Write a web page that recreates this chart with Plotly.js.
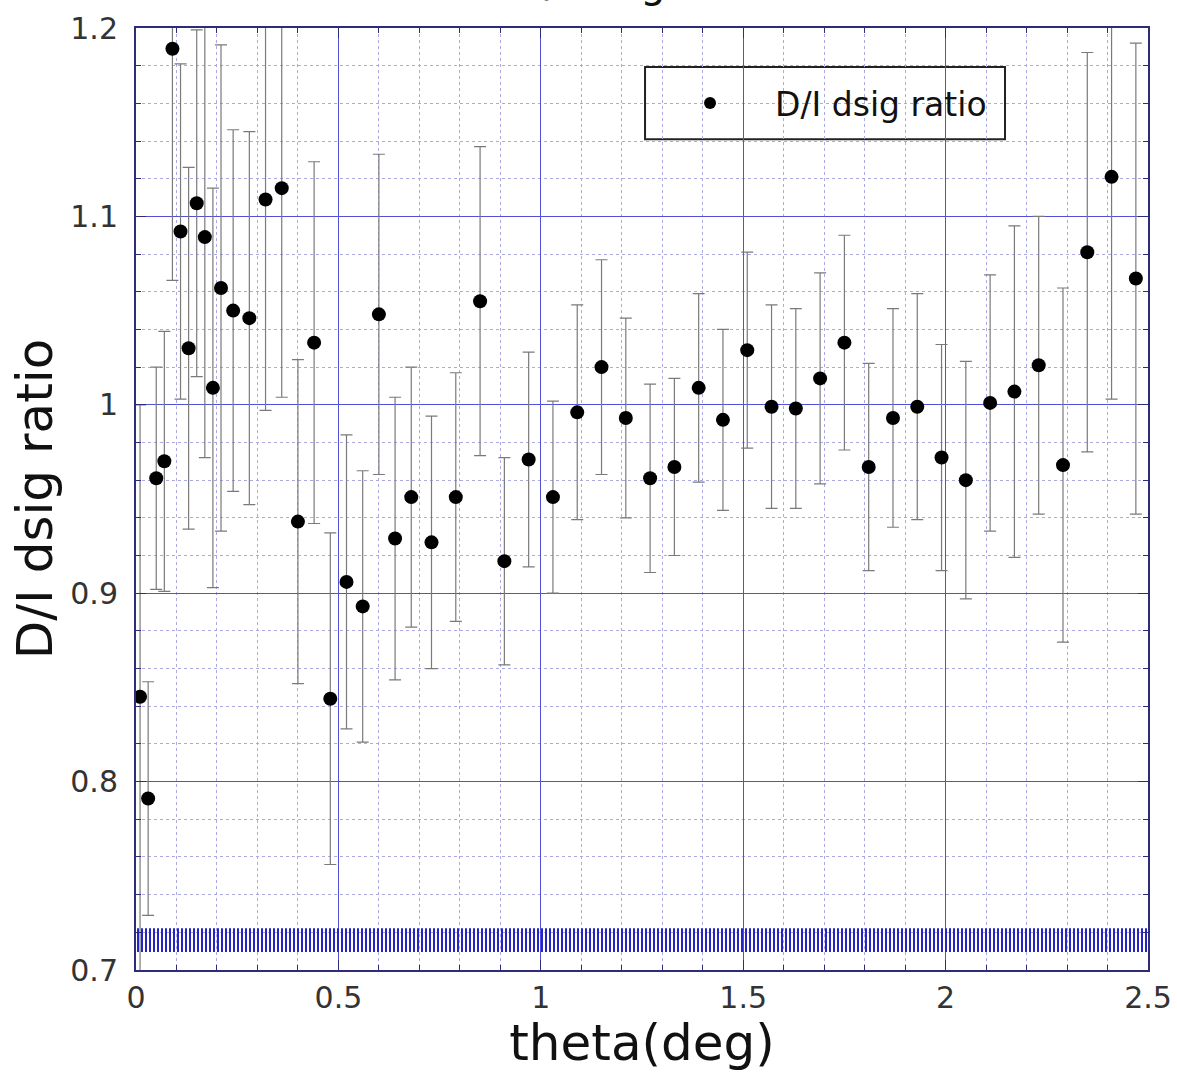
<!DOCTYPE html>
<html>
<head>
<meta charset="utf-8">
<script src="https://cdn.plot.ly/plotly-3.0.1.min.js"></script>
<style>html,body{margin:0;padding:0;background:#fff;}#chart{width:1177px;height:1072px;}</style>
</head>
<body>
<div id="chart"></div>
<script>
// theta (deg)
const theta = [0.01,0.03,0.05,0.07,0.09,0.11,0.13,0.15,0.17,0.19,0.21,0.24,0.28,0.32,0.36,0.40,0.44,0.48,0.52,0.56,0.60,0.64,0.68,0.73,0.79,0.85,0.91,0.97,1.03,1.09,1.15,1.21,1.27,1.33,1.39,1.45,1.51,1.57,1.63,1.69,1.75,1.81,1.87,1.93,1.99,2.05,2.11,2.17,2.23,2.29,2.35,2.41,2.47];
// D/I dsig ratio
const ratio = [0.845,0.791,0.961,0.970,1.189,1.092,1.030,1.107,1.089,1.009,1.062,1.050,1.046,1.109,1.115,0.938,1.033,0.844,0.906,0.893,1.048,0.929,0.951,0.927,0.951,1.055,0.917,0.971,0.951,0.996,1.020,0.993,0.961,0.967,1.009,0.992,1.029,0.999,0.998,1.014,1.033,0.967,0.993,0.999,0.972,0.960,1.001,1.007,1.021,0.968,1.081,1.121,1.067];
// symmetric errors
const ratioErr = [0.155,0.062,0.059,0.069,0.123,0.089,0.096,0.092,0.117,0.106,0.129,0.096,0.099,0.112,0.111,0.086,0.096,0.088,0.078,0.072,0.085,0.075,0.069,0.067,0.066,0.082,0.055,0.057,0.051,0.057,0.057,0.053,0.050,0.047,0.050,0.048,0.052,0.054,0.053,0.056,0.057,0.055,0.058,0.060,0.060,0.063,0.068,0.088,0.079,0.094,0.106,0.118,0.125];
// blue hatched band near the bottom
const bandX = [-0.045, 2.51];
const bandY = [0.7096, 0.7222];

const FONT = 'DejaVu Sans, sans-serif';

// minor grid positions that do not coincide with the major ones
function minorVals(lo, hi, step, majorStep) {
  const out = [];
  const n = Math.round((hi - lo) / step);
  const k = Math.round(majorStep / step);
  for (let i = 1; i < n; i++) if (i % k !== 0) out.push(+(lo + i * step).toFixed(6));
  return out;
}

const band = {
  type: 'bar',
  x: [(bandX[0] + bandX[1]) / 2],
  y: [bandY[1] - bandY[0]],
  base: [bandY[0]],
  width: [bandX[1] - bandX[0]],
  cliponaxis: false,
  showlegend: false,
  hoverinfo: 'skip',
  marker: {
    color: '#8a8af0',
    line: {width: 0},
    pattern: {shape: '|', fgcolor: '#2424c8', size: 4, solidity: 0.5}
  }
};

const pts = {
  type: 'scatter',
  mode: 'markers',
  name: 'D/I dsig ratio',
  x: theta,
  y: ratio,
  error_y: {type: 'data', array: ratioErr, visible: true, color: '#7a7a7a', thickness: 1.2, width: 6},
  marker: {color: '#000', size: 14, symbol: 'circle'},
  cliponaxis: true
};

const gridMajor = '#5050d8';
const gridMinor = '#ababe2';
const axisCol = '#2c2c78';

const layout = {
  width: 1177, height: 1072,
  margin: {l: 136, r: 29, t: 28, b: 102},
  paper_bgcolor: '#fff', plot_bgcolor: '#fff',
  font: {family: FONT, color: '#222'},
  showlegend: true,
  legend: {
    x: 0.503, y: 0.9204, xanchor: 'left', yanchor: 'middle',
    bgcolor: 'rgba(0,0,0,0)', borderwidth: 0,
    font: {family: FONT, size: 33, color: '#111'},
    itemwidth: 120, itemsizing: 'constant',
    tracegroupgap: 0
  },
  shapes: [{
    type: 'rect', xref: 'paper', yref: 'paper',
    x0: 0.503, x1: 0.8587, y0: 0.882, y1: 0.9586,
    line: {color: '#222', width: 2}, fillcolor: '#fff', layer: 'between'
  }],
  xaxis: {
    range: [0, 2.5], autorange: false,
    dtick: 0.5, tick0: 0,
    showgrid: true, gridcolor: gridMajor, gridwidth: 1,
    zeroline: false,
    showline: true, linecolor: axisCol, linewidth: 2, mirror: 'ticks',
    ticks: 'inside', ticklen: 10, tickcolor: axisCol, tickwidth: 1,
    minor: {tickmode: 'array', tickvals: minorVals(0, 2.5, 0.1, 0.5), showgrid: true, gridcolor: gridMinor, griddash: 'dot', gridwidth: 1, ticks: 'inside', ticklen: 5, tickcolor: axisCol},
    tickfont: {family: FONT, size: 30, color: '#333'},
    title: {text: 'theta(deg)', font: {family: FONT, size: 50, color: '#111'}, standoff: 0}
  },
  yaxis: {
    range: [0.7, 1.2], autorange: false,
    dtick: 0.1, tick0: 0.7,
    showgrid: true, gridcolor: gridMajor, gridwidth: 1,
    zeroline: false,
    showline: true, linecolor: axisCol, linewidth: 2, mirror: 'ticks',
    ticks: 'inside', ticklen: 10, tickcolor: axisCol, tickwidth: 1,
    minor: {tickmode: 'array', tickvals: minorVals(0.7, 1.2, 0.02, 0.1), showgrid: true, gridcolor: gridMinor, griddash: 'dot', gridwidth: 1, ticks: 'inside', ticklen: 5, tickcolor: axisCol},
    tickfont: {family: FONT, size: 30, color: '#333'},
    ticklabelstandoff: 10,
    title: {text: 'D/I dsig ratio', font: {family: FONT, size: 50, color: '#111'}, standoff: 2}
  },
  annotations: [{
    text: 'D/I dsig ratio', xref: 'paper', yref: 'paper',
    x: 0.5, y: 1.0, xanchor: 'center', yanchor: 'bottom', yshift: 20,
    showarrow: false,
    font: {family: FONT, size: 40, color: '#111'}
  }]
};

Plotly.newPlot('chart', [band, pts], layout, {displayModeBar: false, staticPlot: true});
</script>
</body>
</html>
